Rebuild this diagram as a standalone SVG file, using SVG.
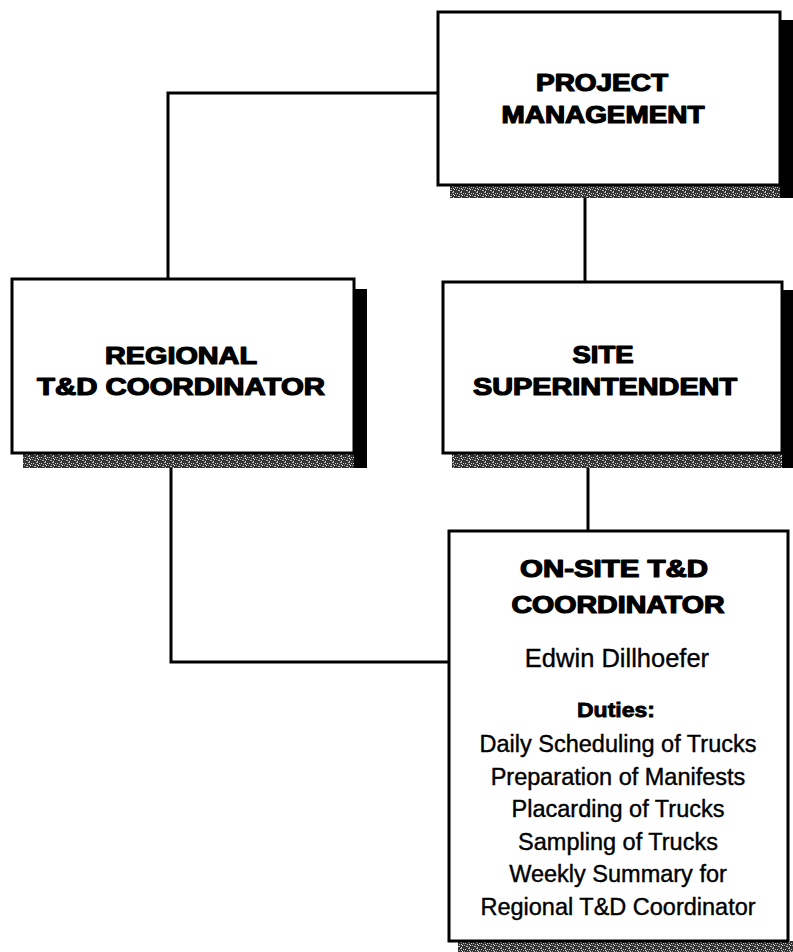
<svg xmlns="http://www.w3.org/2000/svg" width="793" height="952" viewBox="0 0 793 952">
<defs>
<pattern id="stip" width="8" height="6" patternUnits="userSpaceOnUse">
<rect width="8" height="6" fill="#333333"/>
<rect x="1" y="1" width="1" height="1" fill="#d8d8d8"/>
<rect x="4" y="0" width="2" height="1" fill="#b0b0b0"/>
<rect x="6" y="3" width="1" height="1" fill="#eeeeee"/>
<rect x="2" y="4" width="2" height="1" fill="#c4c4c4"/>
<rect x="0" y="3" width="1" height="1" fill="#a0a0a0"/>
<rect x="5" y="5" width="1" height="1" fill="#d6d6d6"/>
<rect x="3" y="2" width="1" height="1" fill="#aaaaaa"/>
<rect x="7" y="1" width="1" height="1" fill="#c8c8c8"/>
<rect x="5" y="2" width="1" height="1" fill="#e0e0e0"/>
</pattern>
</defs>
<style>
.bg{fill:#ffffff}
.box{fill:#ffffff;stroke:#000000;stroke-width:3}
.sh-r{fill:#000000}
.sh-b{fill:url(#stip)}
.conn{fill:none;stroke:#000000;stroke-width:3}
.head{font-family:"Liberation Sans",Arial,sans-serif;font-weight:bold;font-size:23px;text-anchor:middle;fill:#000;stroke:#000;stroke-width:1.2;stroke-linejoin:round}
.name{font-family:"Liberation Sans",Arial,sans-serif;font-size:25.5px;text-anchor:middle;fill:#000;stroke:#000;stroke-width:0.35}
.sub{font-family:"Liberation Sans",Arial,sans-serif;font-weight:bold;font-size:21px;text-anchor:middle;fill:#000;stroke:#000;stroke-width:0.8}
.duty{font-family:"Liberation Sans",Arial,sans-serif;font-size:23.5px;text-anchor:middle;fill:#000;stroke:#000;stroke-width:0.4}
</style>
<rect class="bg" x="0" y="0" width="793" height="952"/>

<g id="connectors">
<path class="conn" d="M438,93 H168 V279"/>
<path class="conn" d="M585,198 V282"/>
<path class="conn" d="M588,468 V531"/>
<path class="conn" d="M171,468 V662 H449"/>
</g>

<g id="project-management">
<rect class="sh-r" x="780" y="20" width="13" height="178"/>
<rect class="sh-b" x="450" y="185" width="330" height="13"/>
<rect class="box" x="438" y="12" width="342" height="173"/>
<text class="head" x="602" y="91" textLength="132" lengthAdjust="spacingAndGlyphs">PROJECT</text>
<text class="head" x="603" y="123" textLength="203" lengthAdjust="spacingAndGlyphs">MANAGEMENT</text>
</g>

<g id="regional-coordinator">
<rect class="sh-r" x="354" y="289" width="13" height="179"/>
<rect class="sh-b" x="23" y="453" width="331" height="15"/>
<rect class="box" x="12" y="279" width="342" height="174"/>
<text class="head" x="181" y="364" textLength="152" lengthAdjust="spacingAndGlyphs">REGIONAL</text>
<text class="head" x="181" y="395" textLength="288" lengthAdjust="spacingAndGlyphs">T&amp;D COORDINATOR</text>
</g>

<g id="site-superintendent">
<rect class="sh-r" x="782" y="290" width="11" height="178"/>
<rect class="sh-b" x="452" y="453" width="330" height="15"/>
<rect class="box" x="443" y="282" width="339" height="171"/>
<text class="head" x="603" y="363" textLength="61" lengthAdjust="spacingAndGlyphs">SITE</text>
<text class="head" x="605" y="395" textLength="264" lengthAdjust="spacingAndGlyphs">SUPERINTENDENT</text>
</g>

<g id="onsite-coordinator">
<rect class="sh-b" x="458" y="941" width="335" height="11"/>
<rect class="box" x="449" y="531" width="339" height="410"/>
<text class="head" x="614" y="577" textLength="188" lengthAdjust="spacingAndGlyphs">ON-SITE T&amp;D</text>
<text class="head" x="618" y="613" textLength="213" lengthAdjust="spacingAndGlyphs">COORDINATOR</text>
<text class="name" x="617" y="667">Edwin Dillhoefer</text>
<text class="sub" x="616" y="717" textLength="78" lengthAdjust="spacingAndGlyphs">Duties:</text>
<text class="duty" x="618" y="752">Daily Scheduling of Trucks</text>
<text class="duty" x="618" y="785">Preparation of Manifests</text>
<text class="duty" x="618" y="817">Placarding of Trucks</text>
<text class="duty" x="618" y="850">Sampling of Trucks</text>
<text class="duty" x="618" y="882">Weekly Summary for</text>
<text class="duty" x="618" y="915">Regional T&amp;D Coordinator</text>
</g>
</svg>
